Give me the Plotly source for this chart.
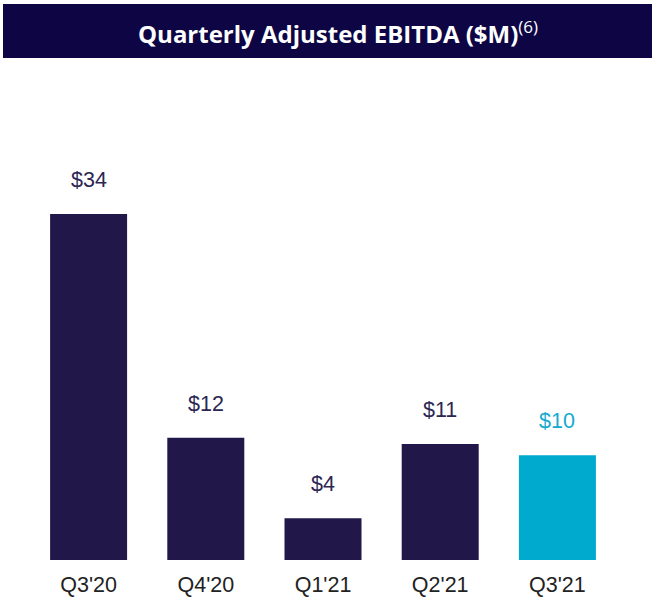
import plotly.graph_objects as go

categories = ["Q3'20", "Q4'20", "Q1'21", "Q2'21", "Q3'21"]
values = [34.0, 12.0, 4.1, 11.4, 10.3]
value_labels = ["$34", "$12", "$4", "$11", "$10"]
bar_colors = ["#211849", "#211849", "#211849", "#211849", "#00A9CE"]
label_colors = ["#2B2652", "#2B2652", "#2B2652", "#2B2652", "#16A9CF"]

W, H = 659, 602
L, R, T, B = 30, W - 616, 82, 42
ymax = (H - T - B) / 10.18

fig = go.Figure()
fig.add_trace(go.Bar(
    x=categories, y=values,
    marker=dict(color=bar_colors, line=dict(width=0)),
    width=0.657, hoverinfo="skip", showlegend=False,
))

for c, v, t, col in zip(categories, values, value_labels, label_colors):
    fig.add_annotation(x=c, y=v, text=t, showarrow=False, xref="x", yref="y",
                       yanchor="bottom", yshift=20,
                       font=dict(family="Liberation Sans, Arial, sans-serif", size=21.5, color=col))

ph = H - T - B
pw = W - L - R
fig.add_shape(type="rect", xref="paper", yref="paper",
              x0=(3 - L) / pw, x1=(652 - L) / pw,
              y0=(H - B - 58) / ph, y1=(H - B - 4) / ph,
              fillcolor="#0D0544", line=dict(width=0), layer="above")
fig.add_annotation(xref="paper", yref="paper", x=(338 - L) / pw, y=(H - B - 32) / ph,
                   text="<b>Quarterly Adjusted EBITDA ($M)</b><sup><span style='font-size:17px'>(6)</span></sup>",
                   showarrow=False, xanchor="center", yanchor="middle",
                   font=dict(family="Open Sans, Lato, sans-serif", size=24, color="white"))

fig.update_layout(
    width=W, height=H,
    margin=dict(l=L, r=R, t=T, b=B, pad=0, autoexpand=False),
    paper_bgcolor="white", plot_bgcolor="white",
    bargap=0.343,
    xaxis=dict(showgrid=False, zeroline=False, showline=False, ticks="",
               automargin=False, ticklabelstandoff=9,
               tickfont=dict(family="Liberation Sans, Arial, sans-serif", size=21.5, color="#222222"),
               range=[-0.5, 4.5]),
    yaxis=dict(visible=False, range=[0, ymax], automargin=False),
)

fig.write_html("out.html", config={"displayModeBar": False},
               post_script="document.body.style.margin='0';")
